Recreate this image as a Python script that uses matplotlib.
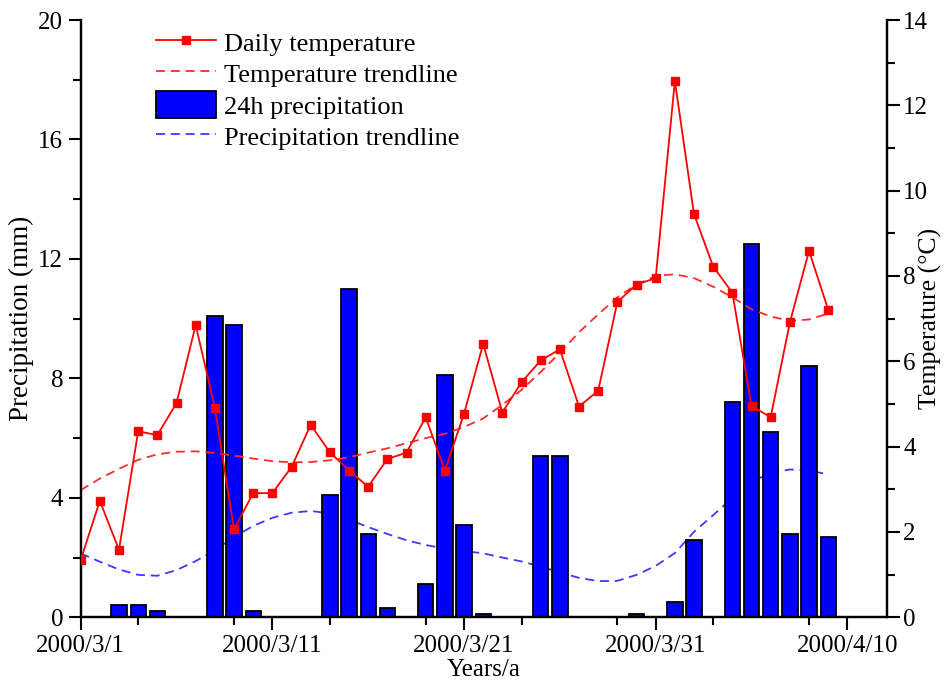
import datetime as dt
import matplotlib
matplotlib.use("Agg")
import matplotlib.pyplot as plt
import matplotlib.dates as mdates
from matplotlib.ticker import FuncFormatter, MultipleLocator

# ---------------- data ----------------
start = dt.date(2000, 3, 1)
days = list(range(40))
dates = [start + dt.timedelta(days=d) for d in days]

precip = [0, 0, 0.4, 0.4, 0.2, 0, 0, 10.1, 9.8, 0.2,
          0, 0, 0, 4.1, 11.0, 2.8, 0.3, 0, 1.1, 8.1,
          3.1, 0.1, 0, 0, 5.4, 5.4, 0, 0, 0, 0.1,
          0, 0.5, 2.6, 0, 7.2, 12.5, 6.2, 2.8, 8.4, 2.7]

temp = [1.34, 2.73, 1.58, 4.36, 4.27, 5.02, 6.85, 4.91, 2.06, 2.91,
        2.91, 3.52, 4.51, 3.87, 3.44, 3.06, 3.71, 3.86, 4.69, 3.44,
        4.77, 6.41, 4.80, 5.51, 6.02, 6.28, 4.94, 5.31, 7.39, 7.80,
        7.95, 12.57, 9.45, 8.22, 7.61, 4.95, 4.69, 6.91, 8.59, 7.21]

temp_trend = [2.98, 3.25, 3.48, 3.69, 3.82, 3.88, 3.89, 3.85, 3.79, 3.72,
              3.66, 3.63, 3.64, 3.68, 3.75, 3.86, 3.96, 4.08, 4.20, 4.30,
              4.46, 4.66, 4.98, 5.33, 5.75, 6.20, 6.68, 7.10, 7.50, 7.80,
              8.00, 8.04, 7.95, 7.75, 7.50, 7.22, 7.05, 6.95, 6.98, 7.12]

precip_trend = [2.14, 1.86, 1.60, 1.42, 1.39, 1.58, 1.88, 2.25, 2.68, 3.06,
                3.33, 3.50, 3.56, 3.48, 3.27, 3.02, 2.79, 2.58, 2.42, 2.30,
                2.22, 2.14, 2.00, 1.87, 1.70, 1.50, 1.32, 1.21, 1.22, 1.42,
                1.72, 2.15, 2.86, 3.42, 4.00, 4.55, 4.82, 4.95, 4.92, 4.78]

xtick_dates = [dt.date(2000, 3, 1), dt.date(2000, 3, 11), dt.date(2000, 3, 21),
               dt.date(2000, 3, 31), dt.date(2000, 4, 10)]

# ---------------- style ----------------
plt.rcParams['font.family'] = ['Liberation Serif', 'DejaVu Serif']
plt.rcParams['font.size'] = 18

fig = plt.figure(figsize=(9.49, 6.88), dpi=100)
ax = fig.add_axes([0.085, 0.1028, 0.8493, 0.8681])
ax2 = ax.twinx()

# bars
bars = ax.bar(dates, precip, width=0.8, color='#0000FF', edgecolor='black',
              linewidth=1.3, zorder=2, label='24h precipitation')
# precipitation trend (behind bars)
ptl, = ax.plot(dates, precip_trend, color='#3a3aFF', lw=1.3, dashes=(5, 3.2),
               zorder=1, label='Precipitation trendline')

# temperature
tl, = ax2.plot(dates, temp, color='#FF0000', lw=1.3, marker='s', markersize=5.5,
               zorder=3, label='Daily temperature')
ttl, = ax2.plot(dates, temp_trend, color='#FF2a2a', lw=1.3, dashes=(5, 3.2),
                zorder=2, label='Temperature trendline')

# axes ranges
x0 = mdates.date2num(start)
ax.set_xlim(x0, x0 + 42.05)
ax.set_ylim(0, 20)
ax2.set_ylim(0, 14)

ax.set_xticks([mdates.date2num(d) for d in xtick_dates])
ax.xaxis.set_minor_locator(MultipleLocator(5))
ax.xaxis.set_major_formatter(FuncFormatter(
    lambda v, p: (lambda d: f"{d.year}/{d.month}/{d.day}")(mdates.num2date(v))))
ax.yaxis.set_major_locator(MultipleLocator(4))
ax.yaxis.set_minor_locator(MultipleLocator(2))
ax2.yaxis.set_major_locator(MultipleLocator(2))
ax2.yaxis.set_minor_locator(MultipleLocator(1))

for a in (ax, ax2):
    a.spines['top'].set_visible(False)
    for s in a.spines.values():
        s.set_linewidth(1.6)
    a.tick_params(which='major', length=9, width=1.5, direction='out', labelsize=18)
    a.tick_params(which='minor', length=6, width=1.5, direction='out')
ax2.tick_params(which='major', pad=3)

ax.set_xlabel('Years/a', fontsize=18, labelpad=2)
ax.set_ylabel('Precipitation (mm)', fontsize=19.5, labelpad=3)
ax2.set_ylabel('Temperature (°C)', fontsize=18.5)
ax2.yaxis.set_label_coords((919 - 80.7) / 806, 0.5)

leg = ax2.legend([tl, ttl, bars, ptl],
                 ['Daily temperature', 'Temperature trendline',
                  '24h precipitation', 'Precipitation trendline'],
                 loc='upper left', bbox_to_anchor=(0.093, 0.986), frameon=False,
                 fontsize=19, handlelength=2.3, handleheight=1.2,
                 labelspacing=0.15, handletextpad=0.3, borderpad=0,
                 borderaxespad=0)

fig.savefig('out.png', dpi=100)
